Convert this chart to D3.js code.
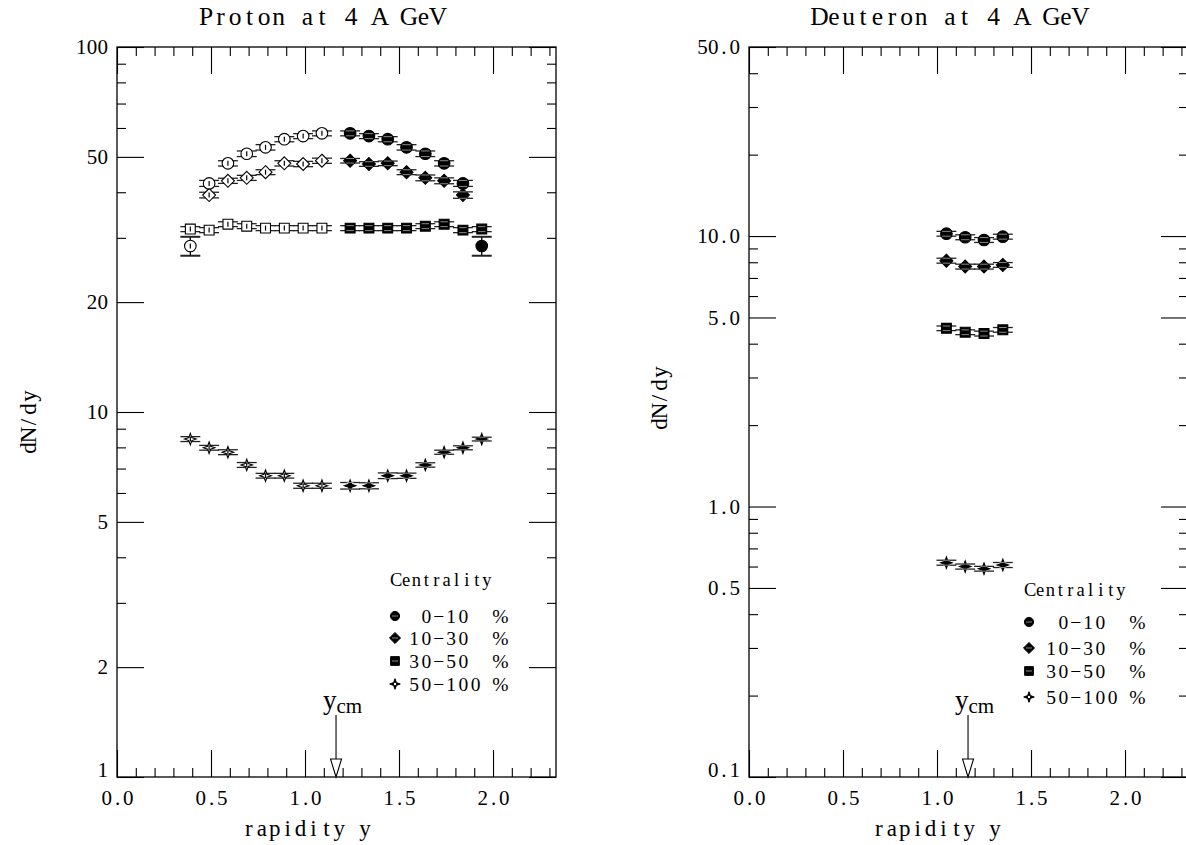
<!DOCTYPE html>
<html>
<head>
<meta charset="utf-8">
<script src="https://cdn.jsdelivr.net/npm/d3@7"></script>
<style>
  html, body { margin: 0; padding: 0; background: #fff; }
  svg { display: block; }
  text { white-space: pre; }
</style>
</head>
<body>
<script>
// ---------------- DATA ----------------
const yCM = 1.165;
const yBeam = 2.335;

// Proton panel
const protonOpenX   = [0.39, 0.49, 0.59, 0.69, 0.79, 0.89, 0.99, 1.09];
const protonFilledX = [1.24, 1.34, 1.44, 1.54, 1.64, 1.74, 1.84, 1.94];

const proton0_10_open     = [28.5, 42.3, 48.0, 51.0, 53.1, 55.9, 57.0, 58.0];
const proton0_10_filled   = [58.0, 57.0, 55.9, 53.1, 51.0, 48.0, 42.3, 28.5];
const proton0_10_err_open   = [1.7, 0.8, 0.8, 0.9, 0.9, 0.9, 0.9, 0.9];
const proton0_10_err_filled = [0.9, 0.9, 0.9, 0.9, 0.9, 0.8, 0.8, 1.7];

const proton10_30_openX   = [0.49, 0.59, 0.69, 0.79, 0.89, 0.99, 1.09];
const proton10_30_filledX = [1.24, 1.34, 1.44, 1.54, 1.64, 1.74, 1.84];
const proton10_30_open    = [39.3, 43.0, 43.8, 45.4, 48.0, 47.8, 48.8];
const proton10_30_filled  = [48.8, 47.8, 48.0, 45.4, 43.8, 43.0, 39.3];
const proton10_30_err     = [0.7, 0.7, 0.7, 0.7, 0.8, 0.8, 0.8];

const proton30_50_open    = [31.7, 31.5, 32.7, 32.3, 31.9, 31.9, 31.9, 31.9];
const proton30_50_filled  = [31.9, 31.9, 31.9, 31.9, 32.3, 32.7, 31.5, 31.7];
const proton30_50_err     = [0.5, 0.5, 0.5, 0.5, 0.5, 0.5, 0.5, 0.5];

const proton50_100_open   = [8.43, 7.98, 7.76, 7.16, 6.69, 6.69, 6.28, 6.28];
const proton50_100_filled = [6.28, 6.28, 6.69, 6.69, 7.16, 7.76, 7.98, 8.43];
const proton50_100_err    = [0.13, 0.12, 0.12, 0.11, 0.10, 0.10, 0.10, 0.10];

// Deuteron panel
const deuteronX = [1.05, 1.15, 1.25, 1.35];
const deuteron0_10   = [10.2, 9.90, 9.67, 9.95];
const deuteron10_30  = [8.11, 7.71, 7.71, 7.82];
const deuteron30_50  = [4.56, 4.41, 4.36, 4.50];
const deuteron50_100 = [0.620, 0.600, 0.589, 0.608];
const deuteron0_10_err   = [0.21, 0.21, 0.20, 0.21];
const deuteron10_30_err  = [0.17, 0.16, 0.16, 0.16];
const deuteron30_50_err  = [0.09, 0.09, 0.09, 0.09];
const deuteron50_100_err = [0.013, 0.013, 0.012, 0.013];

// Axes / ticks / labels
const xMajor = [0.0, 0.5, 1.0, 1.5, 2.0];
const xMajorLabels = ["0.0", "0.5", "1.0", "1.5", "2.0"];
const xMinor = [0.1,0.2,0.3,0.4,0.6,0.7,0.8,0.9,1.1,1.2,1.3,1.4,1.6,1.7,1.8,1.9,2.1,2.2,2.3];
const protonYMajor = [1, 2, 5, 10, 20, 50, 100];
const protonYMinor = [3, 4, 6, 7, 8, 9, 30, 40, 60, 70, 80, 90];
const protonYLabels = ["1", "2", "5", "10", "20", "50", "100"];
const deuteronYMajor = [0.1, 0.5, 1, 5, 10, 50];
const deuteronYMinor = [0.2,0.3,0.4,0.6,0.7,0.8,0.9,2,3,4,6,7,8,9,20,30,40];
const deuteronYLabels = ["0.1", "0.5", "1.0", "5.0", "10.0", "50.0"];

const legendTitle = "Centrality";
const legendLabels = [" 0\u221210  %", "10\u221230  %", "30\u221250  %", "50\u2212100 %"];
const legendShapes = ["circle", "diamond", "square", "star"];

const titles = ["Proton at 4 A GeV", "Deuteron at 4 A GeV"];
const xTitle = "rapidity y";
const yTitle = "dN/dy";

// ---------------- DRAWING ----------------
const SERIF = "'Liberation Serif', 'DejaVu Serif', serif";
const svg = d3.select("body").append("svg").attr("width", 1186).attr("height", 845);

// measuring helper: place characters on a fixed-pitch grid (typewriter look)
const measureText = svg.append("text").attr("font-family", SERIF).attr("visibility", "hidden");
const widthCache = {};
function charW(ch, size) {
  const k = ch + "|" + size;
  if (!(k in widthCache)) {
    measureText.attr("font-size", size).text(ch === " " ? "\u00a0" : ch);
    widthCache[k] = measureText.node().getComputedTextLength();
  }
  return widthCache[k];
}
function monoPlace(sel, str, x0, cw, size) {
  const chars = [...str];
  const xs = chars.map((ch, i) => (x0 + i * cw + (cw - charW(ch, size)) / 2).toFixed(2));
  sel.text(str).attr("x", xs.join(" ")).attr("text-anchor", "start")
    .attr("font-family", SERIF).attr("font-size", size).attr("fill", "#000");
  return sel;
}

const TOP = 47, BOTTOM = 777;
const MAJ = 27, MIN = 9;
const TICK_CW = 10.7, TICK_FS = 21;

function shapePath(type, s) {
  if (type === "circle") { const p = d3.path(); p.arc(0, 0, s, 0, 2 * Math.PI); p.closePath(); return p.toString(); }
  if (type === "diamond") { const d = s * 1.2; return `M0,${-d}L${d},0L0,${d}L${-d},0Z`; }
  if (type === "square")  { const d = s * 0.95; return `M${-d},${-d}L${d},${-d}L${d},${d}L${-d},${d}Z`; }
  if (type === "star")    { const R = s * 1.15, r = s * 0.3; return `M0,${-R}L${r},${-r}L${R},0L${r},${r}L0,${R}L${-r},${r}L${-R},0L${-r},${-r}Z`; }
}

function drawPanel(cfg) {
  const g = svg.append("g");
  const x = d3.scaleLinear().domain([0, yBeam]).range(cfg.xRange);
  const y = d3.scaleLog().domain(cfg.yDomain).range([BOTTOM, TOP]);

  const styleAxis = sel => {
    sel.select(".domain").remove();
    sel.selectAll("line").attr("stroke", "#000").attr("stroke-width", 1.1);
  };

  // bottom axis
  const bx = g.append("g").attr("transform", `translate(0,${BOTTOM})`)
    .call(d3.axisBottom(x).tickValues(xMajor).tickSize(-MAJ).tickSizeOuter(0).tickPadding(13)
      .tickFormat((d, i) => xMajorLabels[i]))
    .call(styleAxis);
  bx.selectAll(".tick text").each(function (d, i) {
    const s = xMajorLabels[i];
    monoPlace(d3.select(this), s, -s.length * TICK_CW / 2, TICK_CW, TICK_FS);
  });
  g.append("g").attr("transform", `translate(0,${BOTTOM})`)
    .call(d3.axisBottom(x).tickValues(xMinor).tickSize(-MIN).tickSizeOuter(0).tickFormat(""))
    .call(styleAxis);
  // top axis
  g.append("g").attr("transform", `translate(0,${TOP})`)
    .call(d3.axisTop(x).tickValues(xMajor).tickSize(-MAJ).tickSizeOuter(0).tickFormat(""))
    .call(styleAxis);
  g.append("g").attr("transform", `translate(0,${TOP})`)
    .call(d3.axisTop(x).tickValues(xMinor).tickSize(-MIN).tickSizeOuter(0).tickFormat(""))
    .call(styleAxis);
  // left axis
  const lx = g.append("g").attr("transform", `translate(${cfg.xRange[0]},0)`)
    .call(d3.axisLeft(y).tickValues(cfg.yMajor).tickSize(-MAJ).tickSizeOuter(0).tickPadding(9)
      .tickFormat((d, i) => cfg.yLabels[i]))
    .call(styleAxis);
  lx.selectAll(".tick text").each(function (d, i) {
    const s = cfg.yLabels[i];
    monoPlace(d3.select(this), s, -9 - s.length * TICK_CW, TICK_CW, TICK_FS);
    if (i === 0) d3.select(this).attr("y", -7);
  });
  g.append("g").attr("transform", `translate(${cfg.xRange[0]},0)`)
    .call(d3.axisLeft(y).tickValues(cfg.yMinor).tickSize(-MIN).tickSizeOuter(0).tickFormat(""))
    .call(styleAxis);
  // right axis
  g.append("g").attr("transform", `translate(${cfg.xRange[1]},0)`)
    .call(d3.axisRight(y).tickValues(cfg.yMajor).tickSize(-MAJ).tickSizeOuter(0).tickFormat(""))
    .call(styleAxis);
  g.append("g").attr("transform", `translate(${cfg.xRange[1]},0)`)
    .call(d3.axisRight(y).tickValues(cfg.yMinor).tickSize(-MIN).tickSizeOuter(0).tickFormat(""))
    .call(styleAxis);

  // frame
  g.append("rect")
    .attr("x", x(0)).attr("y", y(cfg.yDomain[1]))
    .attr("width", x(yBeam) - x(0)).attr("height", y(cfg.yDomain[0]) - y(cfg.yDomain[1]))
    .attr("fill", "none").attr("stroke", "#000").attr("stroke-width", 1.3);

  // titles
  monoPlace(g.append("text").attr("y", 25), cfg.title, cfg.titleX - cfg.title.length * 14.5 / 2, 14.5, 25.5);
  monoPlace(g.append("text").attr("y", 836), xTitle, cfg.xTitleX - xTitle.length * 12.9 / 2, 12.9, 23);
  monoPlace(g.append("g").attr("transform", `translate(${cfg.yTitleX},${cfg.yTitleY}) rotate(-90)`)
      .append("text").attr("y", 0),
    yTitle, -yTitle.length * 13 / 2, 13, 23);

  // data
  const half = 0.053;
  cfg.series.forEach(s => {
    const pts = s.x.map((xv, i) => ({ xv, v: s.v[i], e: s.e[i] }));
    const pg = g.append("g");
    pts.forEach(p => {
      const y1 = y(p.v - p.e), y2 = y(p.v + p.e);
      pg.append("line").attr("x1", x(p.xv)).attr("x2", x(p.xv)).attr("y1", y1).attr("y2", y2)
        .attr("stroke", "#000").attr("stroke-width", 1.3);
      [y1, y2].forEach(yy => pg.append("line")
        .attr("x1", x(p.xv - half)).attr("x2", x(p.xv + half)).attr("y1", yy).attr("y2", yy)
        .attr("stroke", "#222").attr("stroke-width", p.e / p.v > 0.04 ? 2 : 1.3));
    });
    pg.selectAll("path.m").data(pts).join("path")
      .attr("class", "m")
      .attr("d", shapePath(s.shape, s.size))
      .attr("transform", d => `translate(${x(d.xv)},${y(d.v)})`)
      .attr("fill", s.filled ? "#000" : "#fff")
      .attr("stroke", "#000").attr("stroke-width", 1.1);
    if (s.filled) {
      pts.forEach(p => {
        [y(p.v - p.e), y(p.v + p.e)].forEach(yy => {
          if (Math.abs(yy - y(p.v)) < s.size - 1) {
            pg.append("line").attr("x1", x(p.xv) - s.size + 1.5).attr("x2", x(p.xv) + s.size - 1.5)
              .attr("y1", yy).attr("y2", yy).attr("stroke", "#8a8a8a").attr("stroke-width", 1);
          }
        });
      });
    } else {
      pts.forEach(p => {
        pg.append("line").attr("x1", x(p.xv)).attr("x2", x(p.xv))
          .attr("y1", y(p.v) - 2.5).attr("y2", y(p.v) + 2.5).attr("stroke", "#000").attr("stroke-width", 1.2);
      });
    }
  });

  // y_cm arrow
  const ax = x(yCM);
  g.append("line").attr("x1", ax).attr("x2", ax).attr("y1", 715).attr("y2", 759)
    .attr("stroke", "#000").attr("stroke-width", 1.1);
  g.append("path").attr("d", `M${ax - 5.5},759L${ax + 5.5},759L${ax},${BOTTOM}Z`)
    .attr("fill", "#fff").attr("stroke", "#000").attr("stroke-width", 1.1);
  const lab = g.append("text").attr("x", ax - 13).attr("y", 709)
    .attr("font-family", SERIF).attr("fill", "#000");
  lab.append("tspan").attr("font-size", 27).text("y");
  lab.append("tspan").attr("font-size", 21).attr("dy", 4).text("cm");

  // legend
  monoPlace(g.append("text").attr("y", cfg.legTitleY).attr("dy", "0.35em"),
    legendTitle, cfg.legX, 10.1, 18.5);
  legendLabels.forEach((t, i) => {
    const ly = cfg.legY[i];
    g.append("path").attr("d", shapePath(legendShapes[i], 4.6))
      .attr("transform", `translate(${cfg.legX + 4},${ly})`)
      .attr("fill", "#000").attr("stroke", "#000").attr("stroke-width", 1);
    if (legendShapes[i] !== "star") {
      g.append("line").attr("x1", cfg.legX + 1).attr("x2", cfg.legX + 7).attr("y1", ly).attr("y2", ly)
        .attr("stroke", "#888").attr("stroke-width", 1);
    } else {
      g.append("circle").attr("cx", cfg.legX + 4).attr("cy", ly).attr("r", 1.2).attr("fill", "#fff");
    }
    monoPlace(g.append("text").attr("y", ly).attr("dy", "0.35em"), t, cfg.legTextX, 12.3, 19.5);
  });
}

drawPanel({
  xRange: [117, 556],
  yDomain: [1, 100],
  yMajor: protonYMajor, yMinor: protonYMinor, yLabels: protonYLabels,
  title: titles[0], titleX: 322, xTitleX: 307, yTitleX: 36, yTitleY: 422,
  legX: 391, legTitleY: 580, legY: [616, 638, 661, 684], legTextX: 408,
  series: [
    { x: protonOpenX,   v: proton0_10_open,   e: proton0_10_err_open,   shape: "circle", filled: false, size: 5.8 },
    { x: protonFilledX, v: proton0_10_filled, e: proton0_10_err_filled, shape: "circle", filled: true,  size: 5.8 },
    { x: proton10_30_openX,   v: proton10_30_open,   e: proton10_30_err, shape: "diamond", filled: false, size: 5.4 },
    { x: proton10_30_filledX, v: proton10_30_filled, e: proton10_30_err, shape: "diamond", filled: true,  size: 5.4 },
    { x: protonOpenX,   v: proton30_50_open,   e: proton30_50_err, shape: "square", filled: false, size: 5.2 },
    { x: protonFilledX, v: proton30_50_filled, e: proton30_50_err, shape: "square", filled: true,  size: 5.2 },
    { x: protonOpenX,   v: proton50_100_open,   e: proton50_100_err, shape: "star", filled: false, size: 5 },
    { x: protonFilledX, v: proton50_100_filled, e: proton50_100_err, shape: "star", filled: true,  size: 5 }
  ]
});

drawPanel({
  xRange: [749, 1188],
  yDomain: [0.1, 50],
  yMajor: deuteronYMajor, yMinor: deuteronYMinor, yLabels: deuteronYLabels,
  title: titles[1], titleX: 950, xTitleX: 937, yTitleX: 667, yTitleY: 398,
  legX: 1025, legTitleY: 590, legY: [622, 648, 671, 697], legTextX: 1045,
  series: [
    { x: deuteronX, v: deuteron0_10,   e: deuteron0_10_err,   shape: "circle",  filled: true, size: 5.8 },
    { x: deuteronX, v: deuteron10_30,  e: deuteron10_30_err,  shape: "diamond", filled: true, size: 5.4 },
    { x: deuteronX, v: deuteron30_50,  e: deuteron30_50_err,  shape: "square",  filled: true, size: 5.2 },
    { x: deuteronX, v: deuteron50_100, e: deuteron50_100_err, shape: "star",    filled: true, size: 5 }
  ]
});
measureText.remove();
</script>
</body>
</html>
